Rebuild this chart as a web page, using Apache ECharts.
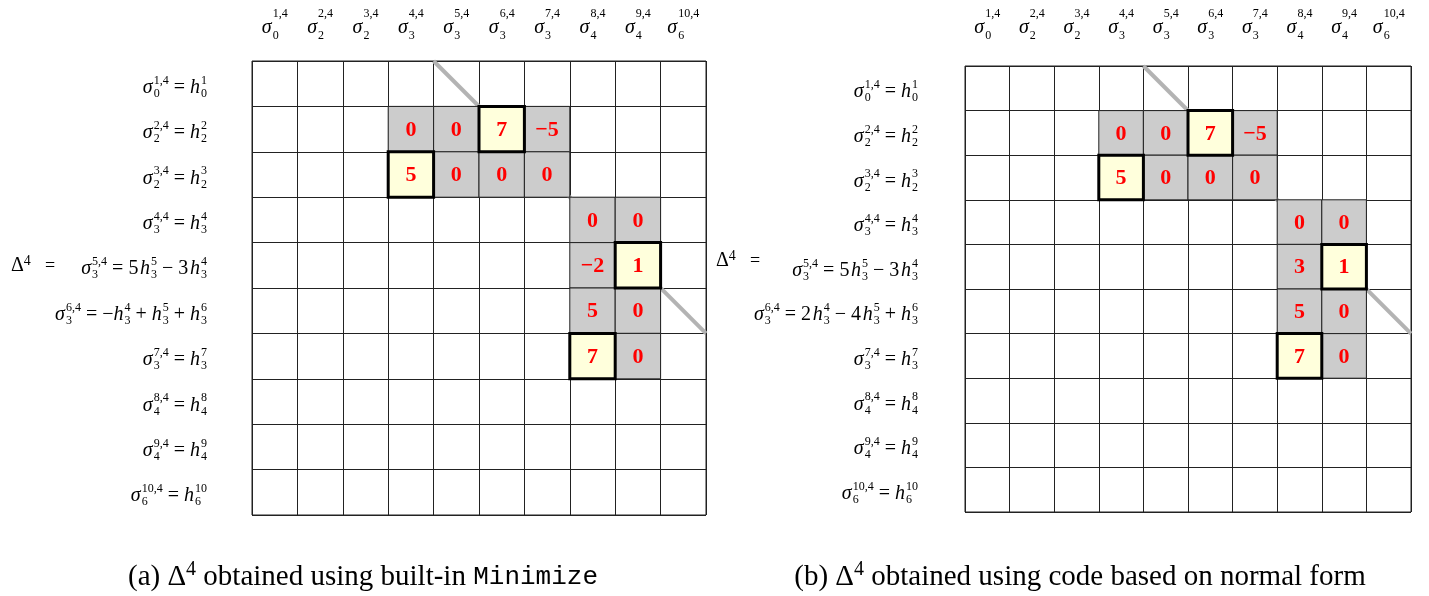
<!DOCTYPE html>
<html>
<head>
<meta charset="utf-8">
<script src="https://cdn.jsdelivr.net/npm/echarts@6/dist/echarts.min.js"></script>
<style>
html, body { margin: 0; padding: 0; background: #fff; }
#main { width: 1429px; height: 596px; }
</style>
</head>
<body>
<div id="main"></div>
<script>
// column headers (same for both panels)
const colLabels = ['σ_0^{1,4}', 'σ_2^{2,4}', 'σ_2^{3,4}', 'σ_3^{4,4}', 'σ_3^{5,4}',
  'σ_3^{6,4}', 'σ_3^{7,4}', 'σ_4^{8,4}', 'σ_4^{9,4}', 'σ_6^{10,4}'];

// row headers, panel (a) and (b)
const rowLabelsA = [
  'σ_0^{1,4} = h_0^1',
  'σ_2^{2,4} = h_2^2',
  'σ_2^{3,4} = h_2^3',
  'σ_3^{4,4} = h_3^4',
  'σ_3^{5,4} = 5\u200Ah_3^5 − 3\u200Ah_3^4',
  'σ_3^{6,4} = −h_3^4 + h_3^5 + h_3^6',
  'σ_3^{7,4} = h_3^7',
  'σ_4^{8,4} = h_4^8',
  'σ_4^{9,4} = h_4^9',
  'σ_6^{10,4} = h_6^{10}'
];
const rowLabelsB = [
  'σ_0^{1,4} = h_0^1',
  'σ_2^{2,4} = h_2^2',
  'σ_2^{3,4} = h_2^3',
  'σ_3^{4,4} = h_3^4',
  'σ_3^{5,4} = 5\u200Ah_3^5 − 3\u200Ah_3^4',
  'σ_3^{6,4} = 2\u200Ah_3^4 − 4\u200Ah_3^5 + h_3^6',
  'σ_3^{7,4} = h_3^7',
  'σ_4^{8,4} = h_4^8',
  'σ_4^{9,4} = h_4^9',
  'σ_6^{10,4} = h_6^{10}'
];

// shaded cells [col, row] and their values
const cellPos = [[3, 1], [4, 1], [5, 1], [6, 1], [3, 2], [4, 2], [5, 2], [6, 2],
  [7, 3], [8, 3], [7, 4], [8, 4], [7, 5], [8, 5], [7, 6], [8, 6]];
const valuesA = [0, 0, 7, -5, 5, 0, 0, 0, 0, 0, -2, 1, 5, 0, 7, 0];
const valuesB = [0, 0, 7, -5, 5, 0, 0, 0, 0, 0, 3, 1, 5, 0, 7, 0];
// boxed (pivot) cells
const pivots = [[5, 1], [3, 2], [8, 4], [7, 6]];
// grey diagonal: from top-left of first cell to bottom-right of second
const diagonal = [4, 0, 9, 5];

const captionA = ['(a) Δ', '4', ' obtained using built-in ', 'Minimize'];
const captionB = ['(b) Δ', '4', ' obtained using code based on normal form', ''];

const FAM = 'Liberation Serif';
const BASE = 20, SCRIPT = 12;
// line heights (superscripts, base, subscripts) for column and row headers
const LH = { c: [14, 14, 2], r: [6, 8, 4.4] };

const ctx = document.createElement('canvas').getContext('2d');
function measure(t, italic, size, fam) {
  if (!t) return 0;
  ctx.font = (italic ? 'italic ' : '') + size + 'px "' + (fam || FAM) + '"';
  return ctx.measureText(t).width;
}

// tiny tex-like parser: x^{..}_{..}
function parseTex(s) {
  const units = [];
  let i = 0;
  while (i < s.length) {
    const ch = s[i];
    if (ch === '^' || ch === '_') {
      i++;
      let arg;
      if (s[i] === '{') {
        const j = s.indexOf('}', i);
        arg = s.slice(i + 1, j);
        i = j + 1;
      } else {
        arg = s[i];
        i++;
      }
      units[units.length - 1][ch === '^' ? 'sup' : 'sub'] = arg;
      continue;
    }
    units.push({ base: ch, it: /[a-zσ]/.test(ch), sup: '', sub: '' });
    i++;
  }
  return units;
}

const rich = {};
function key(set, kind, w) {
  const k = set + kind + Math.round(w * 10);
  const lh = LH[set];
  if (!rich[k]) {
    const s = { width: w, align: 'left', fontFamily: FAM, color: '#000', padding: 0 };
    if (kind === 'bi' || kind === 'bu') {
      s.fontSize = BASE;
      s.fontStyle = kind === 'bi' ? 'italic' : 'normal';
      s.lineHeight = lh[1];
    } else if (kind === 'su') {
      s.fontSize = SCRIPT; s.lineHeight = lh[0];
    } else if (kind === 'sb') {
      s.fontSize = SCRIPT; s.lineHeight = lh[2];
    } else {
      s.fontSize = SCRIPT; s.lineHeight = lh[+kind[1] - 1];
    }
    rich[k] = s;
  }
  return k;
}

function texLabel(s, set) {
  let l1 = '', l2 = '', l3 = '';
  const tok = (kind, w, t) => '{' + key(set, kind, w) + '|' + t + '}';
  parseTex(s).forEach(u => {
    const hasScript = u.sup || u.sub;
    const bw = measure(u.base, u.it, BASE) + (u.it && hasScript ? 1 : 0);
    l1 += tok('p1', bw, ' ');
    l2 += tok(u.it ? 'bi' : 'bu', bw, u.base);
    l3 += tok('p3', bw, ' ');
    if (hasScript) {
      const sw = Math.max(measure(u.sup, false, SCRIPT), measure(u.sub, false, SCRIPT));
      l1 += u.sup ? tok('su', sw, u.sup) : tok('p1', sw, ' ');
      l2 += tok('p2', sw, ' ');
      l3 += u.sub ? tok('sb', sw, u.sub) : tok('p3', sw, ' ');
    }
  });
  return l1 + '\n' + l2 + '\n' + l3;
}

const colTex = colLabels.map(s => texLabel(s, 'c'));
const rowTexA = rowLabelsA.map(s => texLabel(s, 'r'));
const rowTexB = rowLabelsB.map(s => texLabel(s, 'r'));

function fmt(v) {
  return v < 0 ? '−' + (-v) : String(v);
}
function isPivot(c, r) {
  return pivots.some(p => p[0] === c && p[1] === r);
}
function cellData(values) {
  const d = cellPos.map((p, i) => [p[0], p[1], values[i], isPivot(p[0], p[1]) ? 1 : 0]);
  return d.sort((a, b) => a[3] - b[3]);
}

const panels = [
  { left: 252, top: 61, size: 454, rows: rowTexA, names: rowLabelsA, values: valuesA, colMargin: 24, rowMargin: 45 },
  { left: 965, top: 66, size: 446, rows: rowTexB, names: rowLabelsB, values: valuesB, colMargin: 29, rowMargin: 47 }
];

const grid = [], xAxis = [], yAxis = [], series = [];
panels.forEach((p, k) => {
  grid.push({
    left: p.left, top: p.top, width: p.size, height: p.size,
    show: true, borderColor: '#222', borderWidth: 1, backgroundColor: '#fff'
  });
  xAxis.push({
    type: 'category', gridIndex: k, position: 'top', data: colLabels,
    axisLine: { show: false }, axisTick: { show: false },
    splitLine: { show: true, interval: 0, lineStyle: { color: '#222', width: 1 } },
    axisLabel: { interval: 0, margin: p.colMargin, rich: rich, formatter: (v, i) => colTex[i] }
  });
  yAxis.push({
    type: 'category', gridIndex: k, inverse: true, data: p.names,
    axisLine: { show: false }, axisTick: { show: false },
    splitLine: { show: true, interval: 0, lineStyle: { color: '#222', width: 1 } },
    axisLabel: { interval: 0, margin: p.rowMargin, rich: rich, padding: [6, 0, 0, 0],
      formatter: (v, i) => p.rows[i] }
  });
  series.push({
    type: 'custom', xAxisIndex: k, yAxisIndex: k, z: 2,
    data: [diagonal],
    encode: { x: 0, y: 1 },
    renderItem: (params, api) => {
      const a = api.coord([api.value(0), api.value(1)]);
      const b = api.coord([api.value(2), api.value(3)]);
      const s = api.size([1, 1]);
      const w = Math.abs(s[0]) / 2, h = Math.abs(s[1]) / 2;
      return {
        type: 'line',
        shape: { x1: a[0] - w, y1: a[1] - h, x2: b[0] + w, y2: b[1] + h },
        style: { stroke: '#b3b3b3', lineWidth: 4 }
      };
    }
  });
  series.push({
    type: 'custom', xAxisIndex: k, yAxisIndex: k, z: 3,
    data: cellData(p.values),
    encode: { x: 0, y: 1 },
    renderItem: (params, api) => {
      const c = api.coord([api.value(0), api.value(1)]);
      const s = api.size([1, 1]);
      const w = Math.abs(s[0]), h = Math.abs(s[1]);
      const piv = api.value(3) === 1;
      return {
        type: 'group',
        children: [{
          type: 'rect',
          shape: { x: c[0] - w / 2, y: c[1] - h / 2, width: w, height: h },
          style: piv
            ? { fill: '#ffffdc', stroke: '#000', lineWidth: 3 }
            : { fill: '#cccccc', stroke: '#222', lineWidth: 1 },
          z2: piv ? 10 : 0
        }, {
          type: 'text',
          style: {
            text: fmt(api.value(2)), x: c[0], y: c[1] + 1,
            align: 'center', verticalAlign: 'middle',
            fill: '#ff0000', font: 'bold 22px "' + FAM + '"'
          },
          z2: 20
        }]
      };
    }
  });
});

const deltaRich = {
  D: { fontSize: 20, fontFamily: FAM, lineHeight: 24, color: '#000' },
  S: { fontSize: 14, fontFamily: FAM, lineHeight: 14, verticalAlign: 'top', color: '#000' }
};

// caption size fitted to the width of caption (b) in the reference (580px)
const capSize = Math.round(25 * 580 / (measure(captionB[0] + captionB[2], false, 25) + measure('4', false, 17)));
const capRich = {
  t: { fontSize: capSize, fontFamily: FAM, lineHeight: capSize + 6, color: '#000' },
  s: { fontSize: Math.round(capSize * 0.68), fontFamily: FAM, lineHeight: Math.round(capSize * 0.68), verticalAlign: 'top', color: '#000' },
  m: { fontSize: capSize - 3, fontFamily: 'Liberation Mono', lineHeight: capSize + 6, color: '#000' }
};
function caption(c) {
  return '{t|' + c[0] + '}{s|' + c[1] + '}{t|' + c[2] + '}' + (c[3] ? '{m|' + c[3] + '}' : '');
}

const graphic = [
  { type: 'text', x: 11, y: 266, style: { text: '{D|Δ}{S|4}', rich: deltaRich, verticalAlign: 'middle' } },
  { type: 'text', x: 45, y: 266, style: { text: '=', font: '18px "' + FAM + '"', fill: '#000', verticalAlign: 'middle' } },
  { type: 'text', x: 716, y: 261, style: { text: '{D|Δ}{S|4}', rich: deltaRich, verticalAlign: 'middle' } },
  { type: 'text', x: 750, y: 261, style: { text: '=', font: '18px "' + FAM + '"', fill: '#000', verticalAlign: 'middle' } },
  { type: 'text', x: 363, y: 577, style: { text: caption(captionA), rich: capRich, align: 'center', verticalAlign: 'middle' } },
  { type: 'text', x: 1080, y: 577, style: { text: caption(captionB), rich: capRich, align: 'center', verticalAlign: 'middle' } }
];

const chart = echarts.init(document.getElementById('main'));
chart.setOption({
  animation: false,
  backgroundColor: '#fff',
  grid: grid,
  xAxis: xAxis,
  yAxis: yAxis,
  series: series,
  graphic: graphic
});
</script>
</body>
</html>
